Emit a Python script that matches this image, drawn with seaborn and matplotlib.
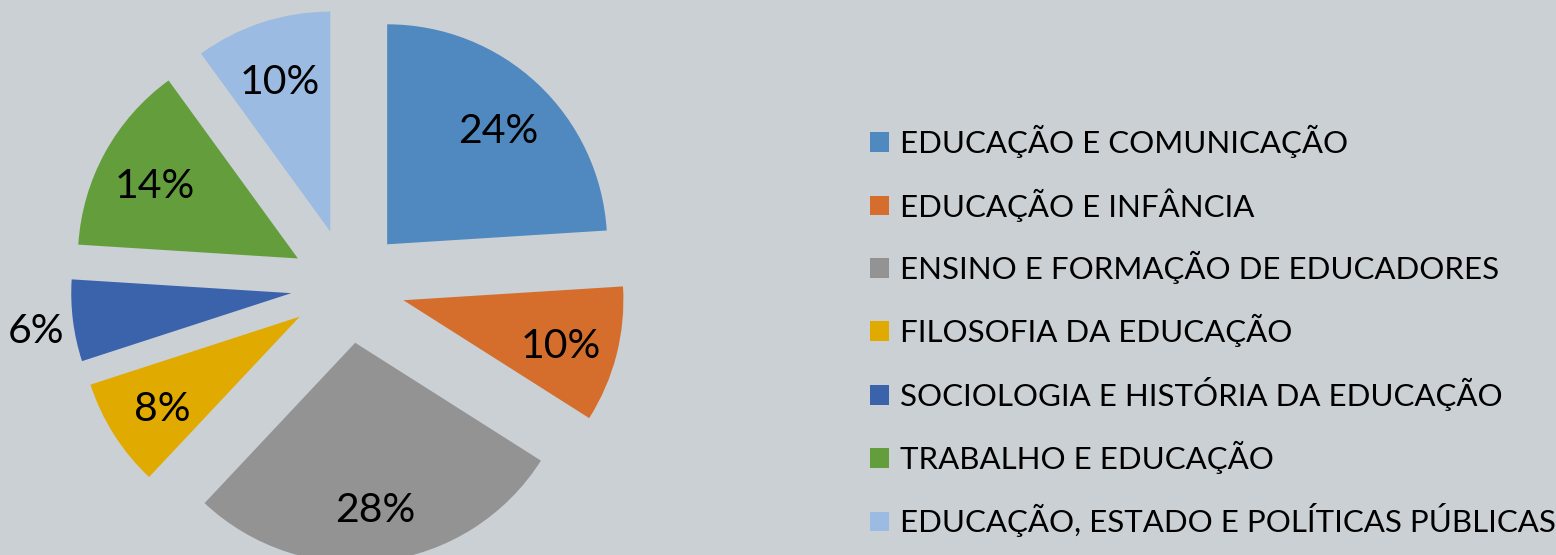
import numpy as np
import matplotlib
matplotlib.use("Agg")
import matplotlib.pyplot as plt
import seaborn as sns
from matplotlib.patches import Patch
from matplotlib.transforms import ScaledTranslation

categories = [
    "EDUCAÇÃO E COMUNICAÇÃO",
    "EDUCAÇÃO E INFÂNCIA",
    "ENSINO E FORMAÇÃO DE EDUCADORES",
    "FILOSOFIA DA EDUCAÇÃO",
    "SOCIOLOGIA E HISTÓRIA DA EDUCAÇÃO",
    "TRABALHO E EDUCAÇÃO",
    "EDUCAÇÃO, ESTADO E POLÍTICAS PÚBLICAS",
]
values = [24, 10, 28, 8, 6, 14, 10]
colors = ["#5089BF", "#D56E2C", "#939393", "#E1AA00", "#3B63AC", "#649E3C", "#9BBBE2"]

sns.set_theme(style="white")
plt.rcParams["font.family"] = ["Lato", "DejaVu Sans"]
bg = "#CBD0D4"

W, H = 1556, 555
fig = plt.figure(figsize=(W / 100, H / 100), dpi=100, facecolor=bg)
ax = fig.add_axes([0, 0, 1, 1])
ax.set_facecolor(bg)

R = 220.0
cx, cy = 348.0, 269.0  # pie centre in pixels from bottom-left
explode = [0.26] * len(values)

wedges, texts, autotexts = ax.pie(
    values, colors=colors, startangle=90, counterclock=False,
    explode=explode, autopct=lambda p: f"{p:.0f}%", pctdistance=0.74,
    wedgeprops=dict(linewidth=0),
    textprops=dict(fontsize=29.5, color="black"),
)
ax.set_aspect("auto")
ax.set_xlim(-cx / R, (W - cx) / R)
ax.set_ylim(-cy / R, (H - cy) / R)
ax.axis("off")

shift = ScaledTranslation(0, -0.06, fig.dpi_scale_trans)
for w, t, v in zip(wedges, autotexts, values):
    if v == min(values):
        ang = np.deg2rad((w.theta1 + w.theta2) / 2)
        c = w.center
        d = 1.17
        t.set_position((c[0] + d * np.cos(ang), c[1] + d * np.sin(ang)))
    t.set_transform(ax.transData + shift)

handles = [Patch(facecolor=c, edgecolor="none") for c in colors]
leg = fig.legend(
    handles, categories, loc="center left", bbox_to_anchor=(870 / W, 0.403),
    frameon=False, fontsize=22.5, handlelength=0.6, handleheight=0.6,
    handletextpad=0.35, labelspacing=0.95, borderaxespad=0, borderpad=0,
    labelcolor="black",
)

fig.savefig("out.png", dpi=100, facecolor=bg)
